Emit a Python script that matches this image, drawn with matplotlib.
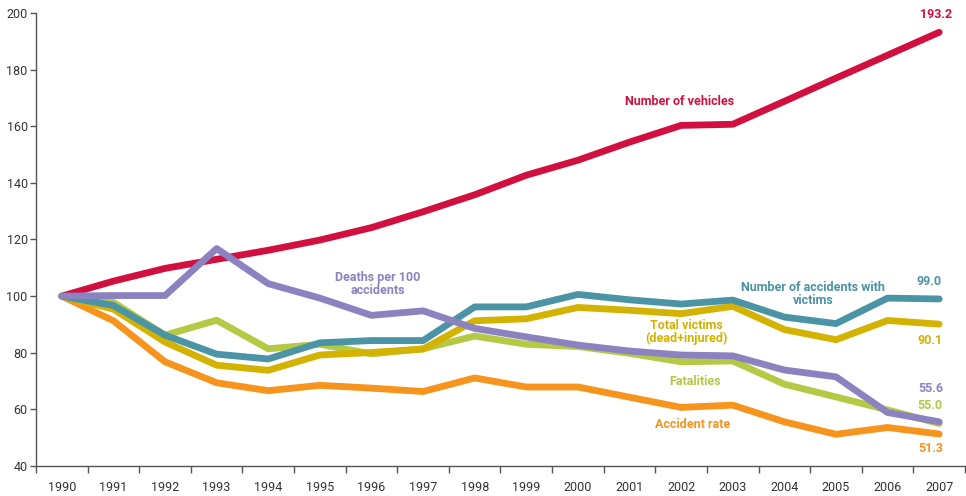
import matplotlib
matplotlib.use('Agg')
import matplotlib.pyplot as plt
import numpy as np

plt.rcParams['font.family'] = ['Roboto', 'DejaVu Sans']

# Index values, 1990 = 100
years = [str(y) for y in range(1990, 2008)]
vehicles = [100, 105.3, 109.8, 113, 116.2, 119.8, 124.2, 129.8, 135.8, 142.7, 148,
            154.4, 160.3, 160.7, 168.8, 177, 185.1, 193.2]
accidents = [100, 96.7, 86.2, 79.5, 77.8, 83.5, 84.3, 84.3, 96.2, 96.2, 100.6,
             98.7, 97.2, 98.6, 92.6, 90.3, 99.3, 99.0]
victims = [100, 95.4, 83.8, 75.6, 73.8, 79.2, 80.1, 81.3, 91.3, 92.0, 96.0,
           95.0, 93.8, 96.4, 88.2, 84.6, 91.4, 90.1]
fatalities = [100, 97.8, 86.2, 91.5, 81.4, 83.0, 79.6, 81.4, 85.9, 83.0, 82.2,
              79.8, 76.8, 77.1, 68.9, 64.4, 59.8, 55.0]
deaths_per_100 = [100, 100.2, 100.2, 116.8, 104.4, 99.3, 93.2, 94.8, 88.6, 85.6, 82.7,
                  80.6, 79.2, 78.9, 73.9, 71.5, 58.9, 55.6]
accident_rate = [100, 91.3, 76.8, 69.4, 66.6, 68.5, 67.5, 66.3, 71.1, 67.9, 67.9,
                 64.3, 60.7, 61.5, 55.6, 51.2, 53.6, 51.3]

c_red = '#d2103f'
c_teal = '#4a94a6'
c_yellow = '#d4b300'
c_green = '#b5c945'
c_purple = '#8b82c0'
c_orange = '#f7941e'
grey = '#555555'

fig = plt.figure(figsize=(9.66, 4.96), dpi=100)
ax = fig.add_axes([36 / 966, 1 - 466 / 496, 929 / 966, 453 / 496])

x = np.arange(len(years))
lw = 4.9
series = [(vehicles, c_red), (accident_rate, c_orange), (fatalities, c_green),
          (victims, c_yellow), (accidents, c_teal), (deaths_per_100, c_purple)]
for vals, col in series:
    ax.plot(x, vals, color=col, lw=lw, solid_capstyle='round', solid_joinstyle='round')

ax.set_xlim(-0.5, 17.5)
ax.set_ylim(40, 200)
ax.set_yticks(range(40, 201, 20))
ax.set_xticks(x)
ax.set_xticklabels(years)
ax.set_xticks(np.arange(-0.5, 18, 1), minor=True)
ax.tick_params(axis='x', which='major', length=0, pad=11, labelsize=9, labelcolor='#333333')
ax.tick_params(axis='x', which='minor', length=5, color=grey, width=1)
ax.tick_params(axis='y', length=4, color=grey, width=1, labelsize=9, labelcolor='#333333', pad=2)
for s in ['top', 'right']:
    ax.spines[s].set_visible(False)
for s in ['left', 'bottom']:
    ax.spines[s].set_color(grey)
    ax.spines[s].set_linewidth(1)

fs = 9
fw = 'bold'
ax.text(11.96, 168.9, 'Number of vehicles', color=c_red, fontsize=fs, fontweight=fw, ha='center', va='center')
ax.text(16.94, 199.5, '193.2', color=c_red, fontsize=fs, fontweight=fw, ha='center', va='center')
ax.text(6.13, 104.2, 'Deaths per 100\naccidents', color=c_purple, fontsize=fs, fontweight=fw,
        ha='center', va='center', linespacing=1.0)
ax.text(14.56, 100.7, 'Number of accidents with\nvictims', color=c_teal, fontsize=fs, fontweight=fw,
        ha='center', va='center', linespacing=1.0)
ax.text(16.8, 105.0, '99.0', color=c_teal, fontsize=fs, fontweight=fw, ha='center', va='center')
ax.text(12.1, 87.3, 'Total victims\n(dead+injured)', color=c_yellow, fontsize=fs, fontweight=fw,
        ha='center', va='center', linespacing=1.0)
ax.text(16.83, 84.4, '90.1', color=c_yellow, fontsize=fs, fontweight=fw, ha='center', va='center')
ax.text(12.27, 69.7, 'Fatalities', color=c_green, fontsize=fs, fontweight=fw, ha='center', va='center')
ax.text(16.83, 67.5, '55.6', color=c_purple, fontsize=fs, fontweight=fw, ha='center', va='center')
ax.text(16.83, 61.5, '55.0', color=c_green, fontsize=fs, fontweight=fw, ha='center', va='center')
ax.text(12.23, 54.8, 'Accident rate', color=c_orange, fontsize=fs, fontweight=fw, ha='center', va='center')
ax.text(16.83, 46.3, '51.3', color=c_orange, fontsize=fs, fontweight=fw, ha='center', va='center')

fig.savefig('out.png', dpi=100)
